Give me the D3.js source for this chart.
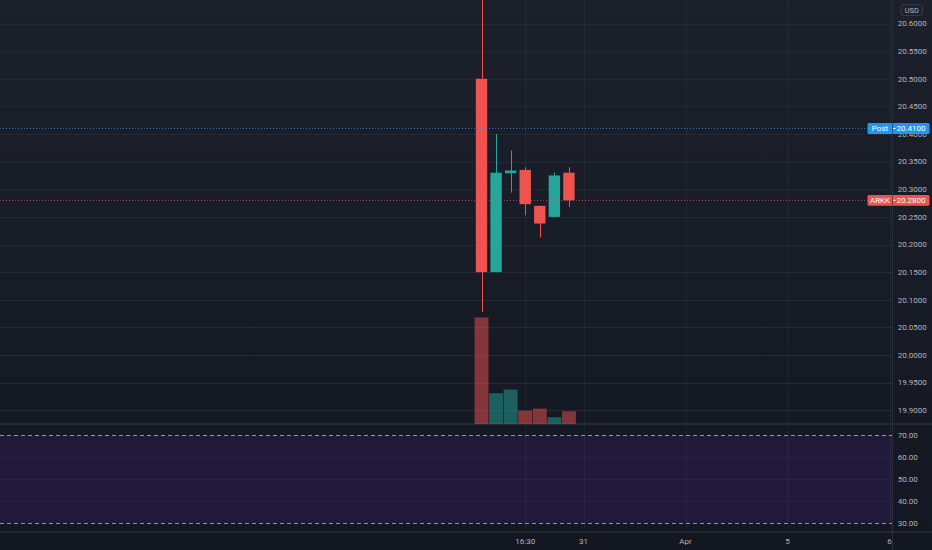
<!DOCTYPE html>
<html>
<head>
<meta charset="utf-8">
<script src="https://cdn.jsdelivr.net/npm/d3@7"></script>
<style>
  html, body { margin: 0; padding: 0; background: #131722; }
  svg { display: block; }
  text { font-family: Roboto, "Liberation Sans", sans-serif; }
</style>
</head>
<body>
<svg id="chart" width="932" height="550"></svg>
<script>
// ---------- DATA ----------
const barIndex = [0, 1, 2, 3, 4, 5, 6];
const opens  = [20.500, 20.150, 20.329, 20.335, 20.270, 20.250, 20.330];
const highs  = [20.700, 20.400, 20.370, 20.340, 20.270, 20.330, 20.340];
const lows   = [20.078, 20.150, 20.294, 20.253, 20.213, 20.249, 20.268];
const closes = [20.150, 20.330, 20.334, 20.273, 20.238, 20.325, 20.280];
const volumes = [53000, 15300, 17150, 6650, 7650, 3350, 6350];

const priceTicks = [19.90, 19.95, 20.00, 20.05, 20.10, 20.15, 20.20, 20.25, 20.30, 20.35, 20.40, 20.45, 20.50, 20.55, 20.60];
const rsiTicks = [30, 40, 50, 60, 70];
const rsiBands = [30, 70];
const timeTickIndex = [3, 7, 14, 21, 28];
const timeTickLabels = ["16:30", "31", "Apr", "5", "6"];

const postPrice = 20.41, postLabel = "Post";
const lastPrice = 20.28, symbolLabel = "ARKK";
const currency = "USD";

// ---------- LAYOUT ----------
const W = 932, H = 550;
const paneRight = 892;
const mainTop = 0, mainBottom = 424;
const rsiTop = 424, rsiBottom = 532;

const svg = d3.select("#chart");

const x = d3.scaleLinear().domain([0, 28]).range([481.5, 889.5]);
const step = x(1) - x(0);
const y = d3.scaleLinear().domain([19.9, 20.6]).range([410.3, 23.5]);
const yVol = d3.scaleLinear().domain([0, d3.max(volumes)]).range([mainBottom, 317.5]);
const yRsi = d3.scaleLinear().domain([30, 70]).range([523.3, 435]);

// ---------- BACKGROUND ----------
const defs = svg.append("defs");
const grad = defs.append("linearGradient").attr("id", "bg").attr("x1", 0).attr("y1", 0).attr("x2", 0).attr("y2", 1);
grad.append("stop").attr("offset", "0%").attr("stop-color", "#1c202b");
grad.append("stop").attr("offset", "100%").attr("stop-color", "#131722");
svg.append("rect").attr("width", W).attr("height", H).attr("fill", "url(#bg)");

defs.append("clipPath").attr("id", "mainClip")
  .append("rect").attr("x", 0).attr("y", mainTop).attr("width", paneRight).attr("height", mainBottom - mainTop);

// ---------- GRID ----------
// RSI band
svg.append("rect")
  .attr("x", 0).attr("width", paneRight)
  .attr("y", yRsi(70)).attr("height", yRsi(30) - yRsi(70))
  .attr("fill", "#221a3b");

svg.append("g").selectAll("line").data(priceTicks).join("line")
  .attr("x1", 0).attr("x2", paneRight)
  .attr("y1", d => Math.round(y(d)) + 0.5).attr("y2", d => Math.round(y(d)) + 0.5)
  .attr("stroke", "#242834").attr("stroke-width", 1);

svg.append("g").selectAll("line").data(rsiTicks.filter(d => rsiBands.indexOf(d) < 0)).join("line")
  .attr("x1", 0).attr("x2", paneRight)
  .attr("y1", d => Math.round(yRsi(d)) + 0.5).attr("y2", d => Math.round(yRsi(d)) + 0.5)
  .attr("stroke", "rgba(255,255,255,0.035)");

// vertical grid
svg.append("g").selectAll("line").data(timeTickIndex).join("line")
  .attr("x1", d => Math.round(x(d)) + 0.5).attr("x2", d => Math.round(x(d)) + 0.5)
  .attr("y1", 0).attr("y2", rsiBottom)
  .attr("stroke", "rgba(255,255,255,0.045)");

// RSI dashed bands
svg.append("g").selectAll("line").data(rsiBands).join("line")
  .attr("x1", 0).attr("x2", paneRight)
  .attr("y1", d => Math.round(yRsi(d)) + 0.5).attr("y2", d => Math.round(yRsi(d)) + 0.5)
  .attr("stroke", "#9598a1").attr("stroke-width", 1).attr("stroke-dasharray", "4,3");

// pane separators
svg.append("line").attr("x1", 0).attr("x2", W).attr("y1", mainBottom).attr("y2", mainBottom)
  .attr("stroke", "#2a2e39").attr("stroke-width", 1.5);
svg.append("line").attr("x1", 0).attr("x2", W).attr("y1", rsiBottom).attr("y2", rsiBottom)
  .attr("stroke", "#2a2e39").attr("stroke-width", 1.5);
svg.append("line").attr("x1", paneRight + 0.5).attr("x2", paneRight + 0.5).attr("y1", 0).attr("y2", H)
  .attr("stroke", "#2a2e39").attr("stroke-width", 1);

// ---------- VOLUME ----------
const up = i => closes[i] >= opens[i];
const plot = svg.append("g").attr("clip-path", "url(#mainClip)");
plot.append("g").selectAll("rect").data(barIndex).join("rect")
  .attr("x", i => x(i) - step / 2 + 0.3)
  .attr("width", step - 0.6)
  .attr("y", i => yVol(volumes[i]))
  .attr("height", i => yVol(0) - yVol(volumes[i]))
  .attr("fill", i => up(i) ? "rgba(38,166,154,0.5)" : "rgba(239,83,80,0.5)");

// ---------- PRICE LINES ----------
svg.append("line").attr("x1", 0).attr("x2", paneRight)
  .attr("y1", Math.round(y(postPrice)) + 0.5).attr("y2", Math.round(y(postPrice)) + 0.5)
  .attr("stroke", "#2196f3").attr("stroke-opacity", 0.75).attr("stroke-dasharray", "1,2");
svg.append("line").attr("x1", 0).attr("x2", paneRight)
  .attr("y1", Math.round(y(lastPrice)) + 0.5).attr("y2", Math.round(y(lastPrice)) + 0.5)
  .attr("stroke", "#ef5350").attr("stroke-opacity", 0.7).attr("stroke-dasharray", "1,2");

// ---------- CANDLES ----------
const bodyW = step * 0.78;
const candles = plot.append("g");
candles.selectAll("line").data(barIndex).join("line")
  .attr("x1", i => Math.round(x(i)) + 0.5).attr("x2", i => Math.round(x(i)) + 0.5)
  .attr("y1", i => y(highs[i])).attr("y2", i => y(lows[i]))
  .attr("stroke", i => up(i) ? "#26a69a" : "#ef5350").attr("stroke-width", 1);
candles.selectAll("rect").data(barIndex).join("rect")
  .attr("x", i => x(i) - bodyW / 2)
  .attr("width", bodyW)
  .attr("y", i => y(Math.max(opens[i], closes[i])))
  .attr("height", i => Math.max(2, Math.abs(y(opens[i]) - y(closes[i]))))
  .attr("fill", i => up(i) ? "#26a69a" : "#ef5350");

// ---------- PRICE AXIS ----------
const fs = 8;
const axisG = svg.append("g");
axisG.selectAll("text.p").data(priceTicks).join("text")
  .attr("class", "p")
  .attr("x", 897.7).attr("y", d => y(d))
  .attr("dy", "0.35em")
  .attr("font-size", fs).attr("fill", "#b2b5be")
  .text(d => d3.format(".4f")(d));

axisG.selectAll("text.rsi").data(rsiTicks).join("text")
  .attr("class", "rsi")
  .attr("x", 897.7).attr("y", d => yRsi(d))
  .attr("dy", "0.35em")
  .attr("font-size", fs).attr("fill", "#b2b5be")
  .text(d => d3.format(".2f")(d));

// USD badge
svg.append("rect").attr("x", 901).attr("y", 4.5).attr("width", 21.5).attr("height", 11).attr("rx", 2)
  .attr("fill", "#1e222d").attr("stroke", "#363a45");
svg.append("text").attr("x", 911.75).attr("y", 10).attr("dy", "0.35em").attr("text-anchor", "middle")
  .attr("font-size", 7.4).attr("fill", "#b2b5be").text(currency);

// price labels
function priceLabel(val, name, color) {
  const cy = y(val);
  const g = svg.append("g");
  g.append("rect").attr("x", 867.5).attr("y", cy - 5.4).attr("width", 62).attr("height", 10.8).attr("rx", 1.5)
    .attr("fill", color);
  g.append("line").attr("x1", paneRight + 0.5).attr("x2", paneRight + 0.5).attr("y1", cy - 5.4).attr("y2", cy + 5.4)
    .attr("stroke", "#131722").attr("stroke-width", 0.8).attr("stroke-opacity", 0.6);
  g.append("text").attr("x", 880).attr("y", cy).attr("dy", "0.35em").attr("text-anchor", "middle")
    .attr("font-size", fs).attr("fill", "#ffffff").text(name);
  g.append("line").attr("x1", 893).attr("x2", 895.5).attr("y1", cy).attr("y2", cy)
    .attr("stroke", "#ffffff").attr("stroke-width", 1);
  g.append("text").attr("x", 896.5).attr("y", cy).attr("dy", "0.35em")
    .attr("font-size", fs).attr("fill", "#ffffff").text(d3.format(".4f")(val));
}
priceLabel(postPrice, postLabel, "#2196f3");
priceLabel(lastPrice, symbolLabel, "#ef5350");

// ---------- TIME AXIS ----------
svg.append("g").selectAll("text").data(timeTickIndex).join("text")
  .attr("x", d => x(d)).attr("y", 541)
  .attr("dy", "0.35em").attr("text-anchor", "middle")
  .attr("font-size", fs).attr("fill", "#b2b5be")
  .text((d, i) => timeTickLabels[i]);
</script>
</body>
</html>
